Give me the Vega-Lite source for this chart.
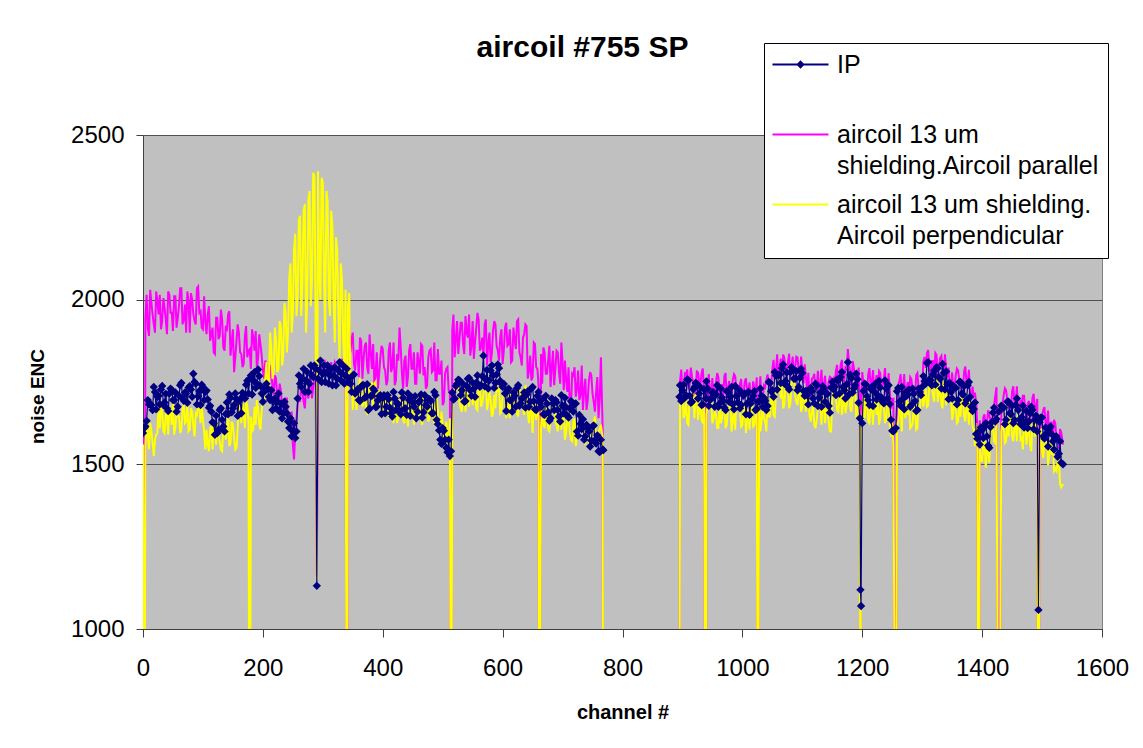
{
"$schema": "https://vega.github.io/schema/vega-lite/v6.json",
"width": 959, "height": 494,
"autosize": {"type": "none"},
"padding": {"left": 143, "top": 135, "right": 41, "bottom": 119},
"background": "white",
"config": {"view": {"fill": "#C0C0C0", "stroke": "#808080", "strokeWidth": 1}, "font": "Liberation Sans"},
"title": {"text": "aircoil #755 SP", "font": "Liberation Sans", "fontSize": 30, "fontWeight": "bold", "color": "black", "anchor": "middle", "frame": "group", "dx": -40, "offset": -44, "baseline": "alphabetic"},
"data": {"values": [
{"c":0,"i":1595,"p":1610,"y":1560},{"c":2,"i":1610,"p":0,"y":0},{"c":4,"i":1615,"p":1945,"y":1555},{"c":8,"i":1695,"p":1915,"y":1595},{"c":12,"i":1682,"p":2030,"y":1625},{"c":16,"i":1665,"p":1955,"y":1565},{"c":20,"i":1720,"p":1900,"y":1575},{"c":24,"i":1705,"p":1995,"y":1595},{"c":28,"i":1682,"p":2015,"y":1610},{"c":32,"i":1738,"p":1935,"y":1660},{"c":36,"i":1688,"p":1975,"y":1595},{"c":40,"i":1670,"p":1895,"y":1650},{"c":44,"i":1715,"p":2015,"y":1675},{"c":48,"i":1725,"p":1960,"y":1620},{"c":52,"i":1695,"p":2010,"y":1590},{"c":56,"i":1660,"p":1915,"y":1665},{"c":60,"i":1708,"p":1980,"y":1645},{"c":64,"i":1747,"p":2035,"y":1605},{"c":68,"i":1693,"p":1940,"y":1680},{"c":72,"i":1715,"p":1900,"y":1630},{"c":76,"i":1733,"p":1995,"y":1600},{"c":80,"i":1727,"p":2020,"y":1670},{"c":84,"i":1775,"p":1955,"y":1615},{"c":88,"i":1745,"p":1925,"y":1655},{"c":92,"i":1707,"p":2040,"y":1685},{"c":96,"i":1680,"p":1965,"y":1625},{"c":100,"i":1735,"p":1910,"y":1635},{"c":104,"i":1720,"p":1935,"y":1545},{"c":108,"i":1697,"p":1955,"y":1560},{"c":112,"i":1678,"p":1875,"y":1610},{"c":116,"i":1628,"p":1915,"y":1545},{"c":120,"i":1590,"p":1835,"y":1600},{"c":124,"i":1595,"p":1945,"y":1625},{"c":128,"i":1665,"p":1890,"y":1570},{"c":132,"i":1635,"p":1940,"y":1540},{"c":136,"i":1600,"p":1845,"y":1615},{"c":140,"i":1688,"p":1910,"y":1595},{"c":144,"i":1712,"p":1965,"y":1555},{"c":148,"i":1658,"p":1870,"y":1630},{"c":152,"i":1680,"p":1780,"y":1580},{"c":156,"i":1698,"p":1875,"y":1550},{"c":160,"i":1692,"p":1900,"y":1680},{"c":164,"i":1655,"p":1835,"y":1625},{"c":168,"i":1710,"p":1805,"y":1665},{"c":172,"i":1742,"p":1920,"y":1695},{"c":176,"i":1715,"p":1845,"y":1635},{"c":178,"i":1760,"p":1850,"y":0},{"c":180,"i":1770,"p":1790,"y":1645},{"c":184,"i":1755,"p":1885,"y":1605},{"c":188,"i":1732,"p":1905,"y":1620},{"c":192,"i":1788,"p":1825,"y":1670},{"c":196,"i":1738,"p":1865,"y":1605},
{"c":200,"i":1690,"p":1785,"y":1690},{"c":204,"i":1730,"p":1815,"y":1760},{"c":208,"i":1730,"p":1760,"y":1720},{"c":212,"i":1695,"p":1800,"y":1900},{"c":216,"i":1665,"p":1735,"y":1760},{"c":220,"i":1700,"p":1770,"y":1915},{"c":224,"i":1690,"p":1700,"y":1780},{"c":228,"i":1660,"p":1745,"y":1935},{"c":232,"i":1640,"p":1680,"y":1800},{"c":236,"i":1690,"p":1650,"y":1990},{"c":240,"i":1655,"p":1700,"y":1840},{"c":244,"i":1610,"p":1620,"y":2065},{"c":248,"i":1585,"p":1660,"y":1900},{"c":252,"i":1625,"p":1515,"y":2150},{"c":256,"i":1600,"p":1640,"y":1950},{"c":260,"i":1770,"p":1700,"y":2240},{"c":264,"i":1735,"p":1745,"y":1950},{"c":268,"i":1790,"p":1690,"y":2270},{"c":272,"i":1755,"p":1730,"y":1900},{"c":276,"i":1720,"p":1700,"y":2305},{"c":280,"i":1800,"p":1760,"y":1980},{"c":284,"i":1765,"p":1735,"y":2385},{"c":288,"i":1790,"p":1780,"y":1950},{"c":290,"i":1131,"p":1160,"y":1150},{"c":292,"i":1760,"p":1790,"y":2390},{"c":296,"i":1815,"p":1800,"y":2000},{"c":300,"i":1775,"p":1790,"y":2355},{"c":304,"i":1750,"p":1810,"y":1900},{"c":308,"i":1800,"p":1790,"y":2300},{"c":312,"i":1770,"p":1800,"y":1950},{"c":316,"i":1740,"p":1780,"y":2220},{"c":320,"i":1795,"p":1810,"y":1870},{"c":324,"i":1760,"p":1790,"y":2150},{"c":328,"i":1810,"p":1800,"y":1820},{"c":332,"i":1775,"p":1820,"y":2060},{"c":336,"i":1745,"p":1800,"y":1800},{"c":340,"i":1790,"p":0,"y":0},{"c":344,"i":1760,"p":1930,"y":2020},{"c":348,"i":1720,"p":1880,"y":1780},
{"c":352,"i":1773,"p":1805,"y":1730},{"c":356,"i":1720,"p":1845,"y":1665},{"c":360,"i":1695,"p":1765,"y":1720},{"c":364,"i":1735,"p":1875,"y":1745},{"c":368,"i":1740,"p":1820,"y":1690},{"c":372,"i":1705,"p":1870,"y":1660},{"c":376,"i":1665,"p":1775,"y":1735},{"c":380,"i":1708,"p":1840,"y":1715},{"c":384,"i":1730,"p":1865,"y":1675},{"c":388,"i":1674,"p":1770,"y":1750},{"c":392,"i":1694,"p":1730,"y":1700},{"c":396,"i":1710,"p":1825,"y":1670},{"c":400,"i":1702,"p":1850,"y":1700},{"c":404,"i":1655,"p":1785,"y":1645},{"c":408,"i":1710,"p":1755,"y":1685},{"c":412,"i":1672,"p":1870,"y":1715},{"c":416,"i":1645,"p":1795,"y":1655},{"c":420,"i":1700,"p":1740,"y":1665},{"c":424,"i":1685,"p":1835,"y":1625},{"c":428,"i":1662,"p":1915,"y":1640},{"c":432,"i":1718,"p":1775,"y":1690},{"c":436,"i":1668,"p":1815,"y":1625},{"c":440,"i":1650,"p":1735,"y":1680},{"c":444,"i":1695,"p":1845,"y":1705},{"c":448,"i":1705,"p":1790,"y":1650},{"c":452,"i":1675,"p":1840,"y":1620},{"c":456,"i":1640,"p":1745,"y":1695},{"c":460,"i":1688,"p":1810,"y":1675},{"c":464,"i":1712,"p":1865,"y":1635},{"c":468,"i":1658,"p":1770,"y":1710},{"c":472,"i":1680,"p":1730,"y":1660},{"c":476,"i":1698,"p":1825,"y":1630},{"c":480,"i":1692,"p":1850,"y":1700},{"c":484,"i":1655,"p":1785,"y":1645},{"c":488,"i":1710,"p":1755,"y":1685},{"c":492,"i":1622,"p":1850,"y":1665},{"c":496,"i":1575,"p":1775,"y":1605},{"c":500,"i":1610,"p":1680,"y":1615},{"c":504,"i":1575,"p":1775,"y":1575},{"c":508,"i":1537,"p":1795,"y":1590},{"c":512,"i":1525,"p":1715,"y":1640},{"c":514,"i":1540,"p":0,"y":0},
{"c":516,"i":1718,"p":1905,"y":1665},{"c":520,"i":1700,"p":1825,"y":1720},{"c":524,"i":1745,"p":1935,"y":1745},{"c":528,"i":1755,"p":1880,"y":1690},{"c":532,"i":1725,"p":1930,"y":1660},{"c":536,"i":1690,"p":1835,"y":1735},{"c":540,"i":1738,"p":1900,"y":1715},{"c":544,"i":1762,"p":1955,"y":1675},{"c":548,"i":1708,"p":1860,"y":1750},{"c":552,"i":1730,"p":1820,"y":1700},{"c":556,"i":1748,"p":1915,"y":1670},{"c":560,"i":1742,"p":1940,"y":1740},{"c":564,"i":1740,"p":1855,"y":1675},{"c":568,"i":1830,"p":1825,"y":1715},{"c":572,"i":1757,"p":1940,"y":1745},{"c":576,"i":1730,"p":1865,"y":1685},{"c":580,"i":1785,"p":1810,"y":1695},{"c":584,"i":1770,"p":1905,"y":1655},{"c":588,"i":1747,"p":1925,"y":1670},{"c":592,"i":1803,"p":1845,"y":1720},{"c":596,"i":1753,"p":1885,"y":1655},{"c":600,"i":1735,"p":1805,"y":1710},{"c":604,"i":1715,"p":1915,"y":1725},{"c":608,"i":1725,"p":1860,"y":1670},{"c":612,"i":1695,"p":1910,"y":1640},{"c":616,"i":1660,"p":1815,"y":1715},{"c":620,"i":1708,"p":1880,"y":1695},{"c":624,"i":1732,"p":1935,"y":1655},{"c":628,"i":1678,"p":1840,"y":1730},{"c":632,"i":1700,"p":1800,"y":1680},{"c":636,"i":1718,"p":1895,"y":1650},{"c":640,"i":1712,"p":1920,"y":1720},{"c":644,"i":1675,"p":1785,"y":1625},{"c":648,"i":1730,"p":1755,"y":1665},{"c":652,"i":1692,"p":1870,"y":1695},{"c":656,"i":1665,"p":1795,"y":1635},{"c":660,"i":1720,"p":1740,"y":1645},{"c":661,"i":1690,"p":0,"y":0},{"c":664,"i":1675,"p":1835,"y":1605},{"c":668,"i":1652,"p":1855,"y":1620},{"c":672,"i":1708,"p":1775,"y":1670},{"c":676,"i":1658,"p":1815,"y":1605},{"c":680,"i":1640,"p":1735,"y":1660},{"c":684,"i":1685,"p":1845,"y":1685},{"c":688,"i":1695,"p":1790,"y":1630},{"c":692,"i":1665,"p":1840,"y":1600},{"c":696,"i":1630,"p":1745,"y":1675},{"c":700,"i":1678,"p":1810,"y":1655},{"c":704,"i":1702,"p":1815,"y":1575},{"c":708,"i":1648,"p":1720,"y":1650},{"c":712,"i":1670,"p":1680,"y":1600},{"c":716,"i":1688,"p":1775,"y":1570},{"c":720,"i":1682,"p":1795,"y":1640},{"c":724,"i":1600,"p":1730,"y":1585},{"c":728,"i":1650,"p":1695,"y":1625},{"c":732,"i":1607,"p":1800,"y":1655},{"c":736,"i":1575,"p":1725,"y":1595},{"c":740,"i":1620,"p":1665,"y":1605},{"c":744,"i":1600,"p":1755,"y":1565},{"c":748,"i":1572,"p":1770,"y":1580},{"c":752,"i":1618,"p":1690,"y":1630},{"c":756,"i":1563,"p":1720,"y":1565},{"c":760,"i":1540,"p":1640,"y":1600},{"c":764,"i":1575,"p":1825,"y":1620},{"c":767,"i":1545,"p":1600,"y":1580},{"c":768,"i":1543,"p":0,"y":0},
{"c":830,"i":null,"p":null,"y":null},
{"c":895,"i":1705,"p":0,"y":0},{"c":896,"i":1740,"p":1752,"y":1685},{"c":900,"i":1725,"p":1719,"y":1710},{"c":904,"i":1702,"p":1776,"y":1655},{"c":908,"i":1758,"p":1788,"y":1625},{"c":912,"i":1708,"p":1740,"y":1700},{"c":916,"i":1690,"p":1764,"y":1680},{"c":920,"i":1735,"p":1716,"y":1640},{"c":924,"i":1745,"p":1782,"y":1715},{"c":928,"i":1715,"p":1749,"y":1665},{"c":932,"i":1680,"p":1779,"y":1635},{"c":936,"i":1728,"p":1722,"y":1705},{"c":939,"i":1700,"p":0,"y":0},{"c":940,"i":1752,"p":1761,"y":1650},{"c":944,"i":1678,"p":1774,"y":1670},{"c":948,"i":1700,"p":1717,"y":1700},{"c":952,"i":1718,"p":1693,"y":1640},{"c":956,"i":1712,"p":1750,"y":1650},{"c":960,"i":1675,"p":1765,"y":1610},{"c":964,"i":1730,"p":1726,"y":1625},{"c":968,"i":1692,"p":1708,"y":1675},{"c":972,"i":1665,"p":1777,"y":1610},{"c":976,"i":1720,"p":1732,"y":1665},{"c":980,"i":1705,"p":1699,"y":1690},{"c":984,"i":1682,"p":1756,"y":1635},{"c":988,"i":1738,"p":1768,"y":1605},{"c":992,"i":1688,"p":1720,"y":1680},{"c":996,"i":1670,"p":1744,"y":1660},{"c":1000,"i":1715,"p":1696,"y":1620},{"c":1004,"i":1715,"p":1752,"y":1685},{"c":1008,"i":1685,"p":1719,"y":1635},{"c":1012,"i":1650,"p":1749,"y":1605},{"c":1016,"i":1698,"p":1692,"y":1675},{"c":1020,"i":1722,"p":1731,"y":1620},{"c":1024,"i":1668,"p":1764,"y":1660},{"c":1026,"i":1690,"p":0,"y":0},{"c":1028,"i":1690,"p":1707,"y":1690},{"c":1032,"i":1708,"p":1683,"y":1630},{"c":1036,"i":1702,"p":1740,"y":1640},{"c":1040,"i":1665,"p":1755,"y":1600},{"c":1044,"i":1750,"p":1746,"y":1645},{"c":1048,"i":1722,"p":1738,"y":1705},{"c":1052,"i":1705,"p":1817,"y":1650},{"c":1056,"i":1770,"p":1782,"y":1715},{"c":1060,"i":1770,"p":1764,"y":1755},{"c":1064,"i":1747,"p":1821,"y":1700},{"c":1068,"i":1803,"p":1833,"y":1670},{"c":1072,"i":1753,"p":1785,"y":1745},{"c":1076,"i":1735,"p":1809,"y":1725},{"c":1080,"i":1780,"p":1761,"y":1685},{"c":1084,"i":1790,"p":1827,"y":1760},{"c":1088,"i":1760,"p":1794,"y":1710},{"c":1092,"i":1725,"p":1824,"y":1680},{"c":1096,"i":1763,"p":1757,"y":1740},{"c":1100,"i":1777,"p":1786,"y":1675},
{"c":1104,"i":1708,"p":1804,"y":1700},{"c":1108,"i":1710,"p":1727,"y":1710},{"c":1112,"i":1728,"p":1703,"y":1650},{"c":1116,"i":1722,"p":1760,"y":1660},{"c":1120,"i":1685,"p":1775,"y":1620},{"c":1124,"i":1740,"p":1736,"y":1635},{"c":1128,"i":1702,"p":1718,"y":1685},{"c":1132,"i":1675,"p":1787,"y":1620},{"c":1136,"i":1730,"p":1742,"y":1675},{"c":1140,"i":1715,"p":1709,"y":1700},{"c":1144,"i":1677,"p":1751,"y":1630},{"c":1148,"i":1733,"p":1763,"y":1600},{"c":1152,"i":1728,"p":1760,"y":1720},{"c":1156,"i":1710,"p":1784,"y":1700},{"c":1160,"i":1755,"p":1736,"y":1660},{"c":1164,"i":1765,"p":1802,"y":1735},{"c":1168,"i":1735,"p":1769,"y":1685},{"c":1172,"i":1700,"p":1799,"y":1655},{"c":1176,"i":1810,"p":1850,"y":1725},{"c":1180,"i":1772,"p":1781,"y":1670},{"c":1184,"i":1718,"p":1814,"y":1710},{"c":1188,"i":1740,"p":1757,"y":1740},{"c":1192,"i":1758,"p":1733,"y":1680},{"c":1196,"i":1640,"p":1700,"y":1620},{"c":1197,"i":1119,"p":0,"y":0},{"c":1198,"i":1070,"p":1620,"y":1580},{"c":1200,"i":1625,"p":1780,"y":1625},{"c":1204,"i":1745,"p":1741,"y":1640},{"c":1208,"i":1707,"p":1723,"y":1690},{"c":1212,"i":1680,"p":1792,"y":1625},{"c":1216,"i":1735,"p":1747,"y":1680},{"c":1220,"i":1720,"p":1714,"y":1705},{"c":1224,"i":1697,"p":1771,"y":1650},{"c":1228,"i":1753,"p":1783,"y":1620},{"c":1232,"i":1703,"p":1735,"y":1695},{"c":1236,"i":1685,"p":1759,"y":1675},{"c":1240,"i":1730,"p":1711,"y":1635},{"c":1244,"i":1740,"p":1777,"y":1710},{"c":1248,"i":1635,"p":1669,"y":1585},{"c":1252,"i":1600,"p":1699,"y":1555},{"c":1256,"i":1610,"p":0,"y":0},{"c":1260,"i":1732,"p":1741,"y":1630},{"c":1264,"i":1678,"p":1774,"y":1670},{"c":1268,"i":1700,"p":1717,"y":1700},{"c":1272,"i":1718,"p":1693,"y":1640},{"c":1276,"i":1712,"p":1750,"y":1650},{"c":1280,"i":1675,"p":1765,"y":1610},{"c":1284,"i":1730,"p":1726,"y":1625},{"c":1288,"i":1692,"p":1708,"y":1675},{"c":1292,"i":1665,"p":1777,"y":1610},{"c":1296,"i":1720,"p":1732,"y":1665},{"c":1300,"i":1735,"p":1729,"y":1720},
{"c":1304,"i":1752,"p":1826,"y":1705},{"c":1308,"i":1808,"p":1838,"y":1675},{"c":1312,"i":1758,"p":1790,"y":1750},{"c":1316,"i":1740,"p":1814,"y":1730},{"c":1320,"i":1785,"p":1766,"y":1690},{"c":1324,"i":1795,"p":1832,"y":1765},{"c":1328,"i":1765,"p":1799,"y":1715},{"c":1332,"i":1730,"p":1829,"y":1685},{"c":1336,"i":1778,"p":1772,"y":1755},{"c":1340,"i":1782,"p":1791,"y":1680},{"c":1344,"i":1698,"p":1794,"y":1690},{"c":1348,"i":1720,"p":1737,"y":1720},{"c":1352,"i":1738,"p":1713,"y":1660},{"c":1356,"i":1732,"p":1770,"y":1670},{"c":1360,"i":1695,"p":1785,"y":1630},{"c":1364,"i":1750,"p":1746,"y":1645},{"c":1368,"i":1712,"p":1728,"y":1695},{"c":1372,"i":1685,"p":1797,"y":1630},{"c":1376,"i":1740,"p":1752,"y":1685},{"c":1380,"i":1705,"p":1699,"y":1690},{"c":1384,"i":1662,"p":1736,"y":1615},{"c":1388,"i":1688,"p":1718,"y":1555},{"c":1392,"i":1578,"p":1610,"y":1570},{"c":1395,"i":1600,"p":0,"y":0},{"c":1396,"i":1560,"p":1634,"y":1550},{"c":1400,"i":1605,"p":1586,"y":1510},{"c":1404,"i":1615,"p":1652,"y":1585},{"c":1408,"i":1585,"p":1619,"y":1535},{"c":1412,"i":1550,"p":1649,"y":1505},{"c":1416,"i":1628,"p":1622,"y":1605},{"c":1420,"i":1672,"p":1681,"y":1570},{"c":1424,"i":1638,"p":1734,"y":1630},{"c":1428,"i":1660,"p":0,"y":0},{"c":1432,"i":1678,"p":1653,"y":1600},{"c":1436,"i":1672,"p":1710,"y":1610},{"c":1440,"i":1635,"p":1725,"y":1570},{"c":1444,"i":1690,"p":1686,"y":1585},{"c":1448,"i":1652,"p":1668,"y":1635},{"c":1452,"i":1625,"p":1737,"y":1570},{"c":1456,"i":1680,"p":1692,"y":1625},{"c":1460,"i":1665,"p":1659,"y":1650},{"c":1464,"i":1622,"p":1696,"y":1575},{"c":1468,"i":1678,"p":1708,"y":1545},{"c":1472,"i":1628,"p":1660,"y":1620},{"c":1476,"i":1610,"p":1684,"y":1600},{"c":1480,"i":1655,"p":1636,"y":1560},{"c":1484,"i":1665,"p":1702,"y":1635},{"c":1488,"i":1635,"p":1669,"y":1585},{"c":1492,"i":1600,"p":1699,"y":1555},{"c":1494,"i":1058,"p":0,"y":0},{"c":1496,"i":1628,"p":1622,"y":1605},{"c":1500,"i":1642,"p":1651,"y":1540},{"c":1504,"i":1578,"p":1674,"y":1570},{"c":1508,"i":1595,"p":1612,"y":1595},{"c":1512,"i":1608,"p":1583,"y":1530},{"c":1516,"i":1592,"p":1630,"y":1530},{"c":1520,"i":1545,"p":1635,"y":1480},{"c":1524,"i":1585,"p":1581,"y":1480},{"c":1528,"i":1532,"p":1548,"y":1515},{"c":1532,"i":1505,"p":1597,"y":1430},{"c":1535,"i":1500,"p":1560,"y":1440},
{"c":6,"i":1632,"p":2015,"y":1630},{"c":10,"i":1682,"p":1890,"y":1545},{"c":14,"i":1680,"p":1990,"y":1600},{"c":18,"i":1735,"p":1925,"y":1525},{"c":22,"i":1667,"p":2025,"y":1590},{"c":26,"i":1708,"p":1955,"y":1680},{"c":30,"i":1727,"p":1910,"y":1675},{"c":34,"i":1680,"p":2005,"y":1600},{"c":38,"i":1714,"p":1940,"y":1655},{"c":42,"i":1662,"p":2025,"y":1590},{"c":46,"i":1730,"p":1960,"y":1665},{"c":50,"i":1695,"p":1905,"y":1685},{"c":54,"i":1718,"p":2010,"y":1610},{"c":58,"i":1675,"p":1945,"y":1645},{"c":62,"i":1740,"p":2035,"y":1595},{"c":66,"i":1700,"p":1925,"y":1670},{"c":70,"i":1718,"p":1985,"y":1625},{"c":74,"i":1687,"p":2025,"y":1690},{"c":78,"i":1737,"p":1900,"y":1605},{"c":82,"i":1705,"p":2000,"y":1660},{"c":86,"i":1750,"p":1935,"y":1585},{"c":90,"i":1682,"p":2035,"y":1650},{"c":94,"i":1723,"p":1960,"y":1680},{"c":98,"i":1742,"p":1915,"y":1675},{"c":102,"i":1695,"p":2010,"y":1600},{"c":106,"i":1724,"p":1895,"y":1605},{"c":110,"i":1672,"p":1980,"y":1540},{"c":114,"i":1660,"p":1895,"y":1615},{"c":118,"i":1625,"p":1840,"y":1635},{"c":122,"i":1648,"p":1945,"y":1560},{"c":126,"i":1605,"p":1880,"y":1595},{"c":130,"i":1670,"p":1970,"y":1545},{"c":134,"i":1615,"p":1855,"y":1620},{"c":138,"i":1653,"p":1915,"y":1575},{"c":142,"i":1652,"p":1955,"y":1650},{"c":146,"i":1702,"p":1830,"y":1565},{"c":150,"i":1670,"p":1910,"y":1620},{"c":154,"i":1715,"p":1825,"y":1545},{"c":158,"i":1647,"p":1925,"y":1610},{"c":162,"i":1698,"p":1840,"y":1690},{"c":166,"i":1717,"p":1795,"y":1685},{"c":170,"i":1700,"p":1890,"y":1610},{"c":174,"i":1754,"p":1825,"y":1675},{"c":182,"i":1712,"p":1910,"y":1600},{"c":186,"i":1780,"p":1845,"y":1675},{"c":190,"i":1745,"p":1790,"y":1695},{"c":194,"i":1768,"p":1895,"y":1620},{"c":198,"i":1715,"p":1830,"y":1665},
{"c":202,"i":1720,"p":1760,"y":1700},{"c":206,"i":1745,"p":1800,"y":1810},{"c":210,"i":1705,"p":1735,"y":1740},{"c":214,"i":1725,"p":1780,"y":1850},{"c":218,"i":1690,"p":1710,"y":1780},{"c":222,"i":1670,"p":1760,"y":1880},{"c":226,"i":1715,"p":1690,"y":1790},{"c":230,"i":1685,"p":1725,"y":1920},{"c":234,"i":1655,"p":1660,"y":1830},{"c":238,"i":1675,"p":1700,"y":1960},{"c":242,"i":1630,"p":1640,"y":1900},{"c":246,"i":1640,"p":1600,"y":2110},{"c":250,"i":1600,"p":1560,"y":1960},{"c":254,"i":1580,"p":1600,"y":2200},{"c":258,"i":1700,"p":1680,"y":2000},{"c":262,"i":1745,"p":1690,"y":2255},{"c":266,"i":1760,"p":1720,"y":2050},{"c":270,"i":1720,"p":1670,"y":2290},{"c":274,"i":1780,"p":1720,"y":2000},{"c":278,"i":1745,"p":1750,"y":2330},{"c":282,"i":1770,"p":1700,"y":2060},{"c":286,"i":1800,"p":1760,"y":2375},{"c":294,"i":1785,"p":1780,"y":2100},{"c":298,"i":1750,"p":1800,"y":2370},{"c":302,"i":1800,"p":1790,"y":2050},{"c":306,"i":1780,"p":1800,"y":2330},{"c":310,"i":1745,"p":1790,"y":2000},{"c":314,"i":1790,"p":1810,"y":2270},{"c":318,"i":1770,"p":1790,"y":2000},{"c":322,"i":1740,"p":1800,"y":2190},{"c":326,"i":1785,"p":1780,"y":1950},{"c":330,"i":1755,"p":1800,"y":2110},{"c":334,"i":1800,"p":1790,"y":1880},{"c":338,"i":1770,"p":1810,"y":2030},{"c":342,"i":1750,"p":1900,"y":1980},{"c":346,"i":1745,"p":1840,"y":1760},
{"c":350,"i":1770,"p":1900,"y":1665},{"c":354,"i":1715,"p":1785,"y":1740},{"c":358,"i":1728,"p":1845,"y":1695},{"c":362,"i":1692,"p":1885,"y":1760},{"c":366,"i":1740,"p":1760,"y":1675},{"c":370,"i":1702,"p":1860,"y":1730},{"c":374,"i":1743,"p":1795,"y":1655},{"c":378,"i":1669,"p":1895,"y":1720},{"c":382,"i":1708,"p":1790,"y":1750},{"c":386,"i":1724,"p":1745,"y":1745},{"c":390,"i":1675,"p":1840,"y":1670},{"c":394,"i":1707,"p":1775,"y":1725},{"c":398,"i":1653,"p":1860,"y":1660},{"c":402,"i":1710,"p":1795,"y":1695},{"c":406,"i":1675,"p":1740,"y":1715},{"c":410,"i":1698,"p":1845,"y":1640},{"c":414,"i":1655,"p":1780,"y":1675},{"c":418,"i":1720,"p":1870,"y":1625},{"c":422,"i":1665,"p":1755,"y":1700},{"c":426,"i":1683,"p":1815,"y":1655},{"c":430,"i":1652,"p":1855,"y":1720},{"c":434,"i":1702,"p":1730,"y":1635},{"c":438,"i":1670,"p":1830,"y":1690},{"c":442,"i":1715,"p":1765,"y":1615},{"c":446,"i":1647,"p":1865,"y":1680},{"c":450,"i":1688,"p":1790,"y":1710},{"c":454,"i":1707,"p":1745,"y":1705},{"c":458,"i":1660,"p":1840,"y":1630},{"c":462,"i":1694,"p":1775,"y":1685},{"c":466,"i":1642,"p":1860,"y":1620},{"c":470,"i":1710,"p":1795,"y":1695},{"c":474,"i":1675,"p":1740,"y":1715},{"c":478,"i":1698,"p":1845,"y":1640},{"c":482,"i":1655,"p":1780,"y":1675},{"c":486,"i":1720,"p":1870,"y":1625},{"c":490,"i":1635,"p":1755,"y":1700},{"c":494,"i":1603,"p":1775,"y":1595},{"c":498,"i":1562,"p":1815,"y":1660},{"c":502,"i":1602,"p":1690,"y":1575},{"c":506,"i":1550,"p":1790,"y":1630},{"c":510,"i":1575,"p":1725,"y":1555},
{"c":518,"i":1697,"p":1955,"y":1720},{"c":522,"i":1738,"p":1880,"y":1750},{"c":526,"i":1757,"p":1835,"y":1745},{"c":530,"i":1710,"p":1930,"y":1670},{"c":534,"i":1744,"p":1865,"y":1725},{"c":538,"i":1692,"p":1950,"y":1660},{"c":542,"i":1760,"p":1885,"y":1735},{"c":546,"i":1725,"p":1830,"y":1755},{"c":550,"i":1748,"p":1935,"y":1680},{"c":554,"i":1705,"p":1870,"y":1715},{"c":558,"i":1770,"p":1960,"y":1665},{"c":562,"i":1735,"p":1845,"y":1740},{"c":566,"i":1768,"p":1885,"y":1685},{"c":570,"i":1737,"p":1925,"y":1750},{"c":574,"i":1787,"p":1800,"y":1665},{"c":578,"i":1755,"p":1900,"y":1720},{"c":582,"i":1800,"p":1835,"y":1645},{"c":586,"i":1732,"p":1935,"y":1710},{"c":590,"i":1773,"p":1860,"y":1740},{"c":594,"i":1792,"p":1815,"y":1735},{"c":598,"i":1745,"p":1910,"y":1660},{"c":602,"i":1744,"p":1845,"y":1715},{"c":606,"i":1662,"p":1930,"y":1640},{"c":610,"i":1730,"p":1865,"y":1715},{"c":614,"i":1695,"p":1810,"y":1735},{"c":618,"i":1718,"p":1915,"y":1660},{"c":622,"i":1675,"p":1850,"y":1695},{"c":626,"i":1740,"p":1940,"y":1645},{"c":630,"i":1685,"p":1825,"y":1720},{"c":634,"i":1703,"p":1885,"y":1675},{"c":638,"i":1672,"p":1925,"y":1740},{"c":642,"i":1722,"p":1760,"y":1655},{"c":646,"i":1690,"p":1830,"y":1670},{"c":650,"i":1735,"p":1765,"y":1595},{"c":654,"i":1667,"p":1865,"y":1660},{"c":658,"i":1708,"p":1790,"y":1690},{"c":666,"i":1697,"p":1745,"y":1685},{"c":670,"i":1650,"p":1840,"y":1610},{"c":674,"i":1684,"p":1775,"y":1665},{"c":678,"i":1632,"p":1860,"y":1600},{"c":682,"i":1700,"p":1795,"y":1675},{"c":686,"i":1665,"p":1740,"y":1695},{"c":690,"i":1688,"p":1845,"y":1620},{"c":694,"i":1645,"p":1780,"y":1655},{"c":698,"i":1710,"p":1870,"y":1605},{"c":702,"i":1655,"p":1725,"y":1650},{"c":706,"i":1673,"p":1755,"y":1595},{"c":710,"i":1642,"p":1795,"y":1660},{"c":714,"i":1692,"p":1670,"y":1575},{"c":718,"i":1660,"p":1770,"y":1630},{"c":722,"i":1685,"p":1705,"y":1555},{"c":726,"i":1587,"p":1785,"y":1610},{"c":730,"i":1623,"p":1710,"y":1640},{"c":734,"i":1637,"p":1665,"y":1635},{"c":738,"i":1585,"p":1760,"y":1560},{"c":742,"i":1612,"p":1695,"y":1615},{"c":746,"i":1554,"p":1780,"y":1550},{"c":750,"i":1615,"p":1715,"y":1625},{"c":754,"i":1573,"p":1660,"y":1645},{"c":758,"i":1588,"p":1765,"y":1570},{"c":762,"i":1537,"p":1700,"y":1605},
{"c":898,"i":1692,"p":1788,"y":1725},{"c":902,"i":1742,"p":1713,"y":1640},{"c":906,"i":1710,"p":1773,"y":1695},{"c":910,"i":1755,"p":1734,"y":1620},{"c":914,"i":1687,"p":1794,"y":1685},{"c":918,"i":1728,"p":1749,"y":1715},{"c":922,"i":1747,"p":1722,"y":1710},{"c":926,"i":1700,"p":1779,"y":1635},{"c":930,"i":1734,"p":1740,"y":1690},{"c":934,"i":1682,"p":1791,"y":1625},{"c":942,"i":1730,"p":1732,"y":1680},{"c":946,"i":1695,"p":1699,"y":1700},{"c":950,"i":1718,"p":1762,"y":1625},{"c":954,"i":1675,"p":1723,"y":1660},{"c":958,"i":1740,"p":1777,"y":1610},{"c":962,"i":1685,"p":1708,"y":1685},{"c":966,"i":1703,"p":1744,"y":1640},{"c":970,"i":1672,"p":1768,"y":1705},{"c":974,"i":1722,"p":1693,"y":1620},{"c":978,"i":1690,"p":1753,"y":1675},{"c":982,"i":1735,"p":1714,"y":1600},{"c":986,"i":1667,"p":1774,"y":1665},{"c":990,"i":1708,"p":1729,"y":1695},{"c":994,"i":1727,"p":1702,"y":1690},{"c":998,"i":1680,"p":1759,"y":1615},{"c":1002,"i":1709,"p":1715,"y":1665},{"c":1006,"i":1652,"p":1761,"y":1595},{"c":1010,"i":1720,"p":1722,"y":1670},{"c":1014,"i":1685,"p":1689,"y":1690},{"c":1018,"i":1708,"p":1752,"y":1615},{"c":1022,"i":1665,"p":1713,"y":1650},{"c":1030,"i":1730,"p":1767,"y":1600},{"c":1034,"i":1675,"p":1698,"y":1675},{"c":1038,"i":1693,"p":1734,"y":1630},{"c":1042,"i":1677,"p":1773,"y":1710},{"c":1046,"i":1747,"p":1718,"y":1645},{"c":1050,"i":1725,"p":1788,"y":1710},{"c":1054,"i":1780,"p":1759,"y":1645},{"c":1058,"i":1727,"p":1834,"y":1725},{"c":1062,"i":1773,"p":1794,"y":1760},{"c":1066,"i":1792,"p":1767,"y":1755},{"c":1070,"i":1745,"p":1824,"y":1680},{"c":1074,"i":1779,"p":1785,"y":1735},{"c":1078,"i":1727,"p":1836,"y":1670},{"c":1082,"i":1795,"p":1797,"y":1745},{"c":1086,"i":1760,"p":1764,"y":1765},{"c":1090,"i":1783,"p":1827,"y":1690},{"c":1094,"i":1735,"p":1783,"y":1720},{"c":1098,"i":1790,"p":1827,"y":1660},{"c":1102,"i":1723,"p":1746,"y":1723},
{"c":1106,"i":1723,"p":1764,"y":1660},{"c":1110,"i":1682,"p":1778,"y":1715},{"c":1114,"i":1732,"p":1703,"y":1630},{"c":1118,"i":1700,"p":1763,"y":1685},{"c":1122,"i":1745,"p":1724,"y":1610},{"c":1126,"i":1677,"p":1784,"y":1675},{"c":1130,"i":1718,"p":1739,"y":1705},{"c":1134,"i":1737,"p":1712,"y":1700},{"c":1138,"i":1690,"p":1769,"y":1625},{"c":1142,"i":1714,"p":1720,"y":1670},{"c":1146,"i":1657,"p":1766,"y":1600},{"c":1150,"i":1750,"p":1752,"y":1700},{"c":1154,"i":1735,"p":1739,"y":1740},{"c":1158,"i":1758,"p":1802,"y":1665},{"c":1162,"i":1715,"p":1763,"y":1700},{"c":1166,"i":1780,"p":1817,"y":1650},{"c":1170,"i":1725,"p":1748,"y":1725},{"c":1174,"i":1743,"p":1784,"y":1680},{"c":1178,"i":1712,"p":1808,"y":1745},{"c":1182,"i":1762,"p":1733,"y":1660},{"c":1186,"i":1730,"p":1793,"y":1715},{"c":1190,"i":1775,"p":1754,"y":1640},{"c":1194,"i":1687,"p":1794,"y":1685},{"c":1202,"i":1723,"p":1744,"y":1710},{"c":1206,"i":1742,"p":1717,"y":1705},{"c":1210,"i":1695,"p":1774,"y":1630},{"c":1214,"i":1729,"p":1735,"y":1685},{"c":1218,"i":1677,"p":1786,"y":1620},{"c":1222,"i":1745,"p":1747,"y":1695},{"c":1226,"i":1710,"p":1714,"y":1715},{"c":1230,"i":1733,"p":1777,"y":1640},{"c":1234,"i":1690,"p":1738,"y":1675},{"c":1238,"i":1755,"p":1792,"y":1625},{"c":1242,"i":1700,"p":1723,"y":1700},{"c":1246,"i":1683,"p":1724,"y":1620},{"c":1250,"i":1602,"p":1698,"y":1635},{"c":1258,"i":1722,"p":1693,"y":1620},{"c":1262,"i":1690,"p":1753,"y":1675},{"c":1266,"i":1735,"p":1714,"y":1600},{"c":1270,"i":1667,"p":1774,"y":1665},{"c":1274,"i":1708,"p":1729,"y":1695},{"c":1278,"i":1727,"p":1702,"y":1690},{"c":1282,"i":1680,"p":1759,"y":1615},{"c":1286,"i":1714,"p":1720,"y":1670},{"c":1290,"i":1662,"p":1771,"y":1605},{"c":1294,"i":1730,"p":1732,"y":1680},{"c":1298,"i":1710,"p":1714,"y":1715},
{"c":1302,"i":1768,"p":1812,"y":1675},{"c":1306,"i":1745,"p":1793,"y":1730},{"c":1310,"i":1810,"p":1847,"y":1680},{"c":1314,"i":1755,"p":1778,"y":1755},{"c":1318,"i":1773,"p":1814,"y":1710},{"c":1322,"i":1742,"p":1838,"y":1775},{"c":1326,"i":1792,"p":1763,"y":1690},{"c":1330,"i":1760,"p":1823,"y":1745},{"c":1334,"i":1805,"p":1784,"y":1670},{"c":1338,"i":1727,"p":1834,"y":1725},{"c":1342,"i":1743,"p":1764,"y":1730},{"c":1346,"i":1747,"p":1722,"y":1710},{"c":1350,"i":1700,"p":1779,"y":1635},{"c":1354,"i":1734,"p":1740,"y":1690},{"c":1358,"i":1682,"p":1791,"y":1625},{"c":1362,"i":1750,"p":1752,"y":1700},{"c":1366,"i":1715,"p":1719,"y":1720},{"c":1370,"i":1738,"p":1782,"y":1645},{"c":1374,"i":1695,"p":1743,"y":1680},{"c":1378,"i":1750,"p":1787,"y":1620},{"c":1382,"i":1675,"p":1698,"y":1675},{"c":1386,"i":1668,"p":1709,"y":1605},{"c":1390,"i":1592,"p":1688,"y":1625},{"c":1398,"i":1612,"p":1583,"y":1510},{"c":1402,"i":1580,"p":1643,"y":1565},{"c":1406,"i":1625,"p":1604,"y":1490},{"c":1410,"i":1557,"p":1664,"y":1555},{"c":1414,"i":1613,"p":1634,"y":1600},{"c":1418,"i":1657,"p":1632,"y":1620},{"c":1422,"i":1630,"p":1709,"y":1565},{"c":1434,"i":1674,"p":1680,"y":1630},{"c":1438,"i":1622,"p":1731,"y":1565},{"c":1442,"i":1690,"p":1692,"y":1640},{"c":1446,"i":1655,"p":1659,"y":1660},{"c":1450,"i":1678,"p":1722,"y":1585},{"c":1454,"i":1635,"p":1683,"y":1620},{"c":1458,"i":1700,"p":1737,"y":1570},{"c":1462,"i":1635,"p":1658,"y":1635},{"c":1466,"i":1643,"p":1684,"y":1580},{"c":1470,"i":1612,"p":1708,"y":1645},{"c":1474,"i":1662,"p":1633,"y":1560},{"c":1478,"i":1630,"p":1693,"y":1615},{"c":1482,"i":1675,"p":1654,"y":1540},{"c":1486,"i":1607,"p":1714,"y":1605},{"c":1490,"i":1648,"p":1669,"y":1635},{"c":1498,"i":1642,"p":1617,"y":1605},{"c":1502,"i":1585,"p":1664,"y":1520},{"c":1506,"i":1612,"p":1618,"y":1568},{"c":1510,"i":1554,"p":1663,"y":1497},{"c":1514,"i":1615,"p":1617,"y":1565},{"c":1518,"i":1570,"p":1574,"y":1575},{"c":1522,"i":1580,"p":1624,"y":1487},{"c":1526,"i":1523,"p":1571,"y":1508},{"c":1530,"i":1570,"p":1607,"y":1440}
]},
"transform": [{"fold": ["i", "p", "y"], "as": ["s", "v"]}],
"encoding": {
  "x": {"field": "c", "type": "quantitative", "scale": {"domain": [0, 1600], "nice": false},
    "axis": {"title": "channel #", "values": [0,200,400,600,800,1000,1200,1400,1600], "format": "d", "grid": false,
      "labelFont": "Liberation Sans", "labelFontSize": 24, "labelColor": "black", "labelPadding": 19, "labelFlush": false, "labelOverlap": false,
      "tickColor": "#404040", "tickSize": 8, "domainColor": "#404040",
      "titleFont": "Liberation Sans", "titleFontSize": 20, "titleFontWeight": "bold", "titleColor": "black", "titlePadding": 22}},
  "y": {"field": "v", "type": "quantitative", "scale": {"domain": [1000, 2500], "nice": false, "zero": false},
    "axis": {"title": "noise ENC", "values": [1000,1500,2000,2500], "format": "d", "grid": true, "gridColor": "#505050", "gridWidth": 1,
      "labelFont": "Liberation Sans", "labelFontSize": 24, "labelColor": "black", "labelPadding": 12,
      "tickColor": "#404040", "tickSize": 7, "domainColor": "#404040",
      "titleFont": "Liberation Sans", "titleFontSize": 19, "titleFontWeight": "bold", "titleColor": "black", "titlePadding": 23, "titleY": 261}},
  "color": {"field": "s", "type": "nominal", "scale": {"domain": ["i", "p", "y"], "range": ["#000080", "#FF00FF", "#FFFF00"]},
    "legend": {"orient": "none", "legendX": 621, "legendY": -92, "title": null, "direction": "vertical",
      "fillColor": "white", "strokeColor": "black", "padding": 9,
      "labelFont": "Liberation Sans", "labelFontSize": 25, "labelColor": "black", "labelLimit": 600,
      "symbolSize": 400, "symbolStrokeWidth": 2, "symbolOffset": 15, "labelOffset": 24, "rowPadding": 13, "labelBaseline": "alphabetic",
      "labelExpr": "datum.value === 'i' ? ['IP', ' '] : datum.value === 'p' ? ['aircoil 13 um', 'shielding.Aircoil parallel'] : ['aircoil 13 um shielding.', 'Aircoil perpendicular']",
      "encode": {
        "symbols": {"update": {"shape": {"signal": "datum.value === 'i' ? 'M-2.8,0H2.8M0,-0.28L0.28,0L0,0.28L-0.28,0Z' : 'M-2.8,0H2.8'"}, "fill": {"signal": "datum.value === 'i' ? '#000080' : 'transparent'"}, "strokeWidth": {"value": 2}}},
        "labels": {"update": {"lineHeight": {"value": 31}, "dy": {"value": 8}}}
      }}}
},
"layer": [
  {"transform": [{"filter": "datum.s === 'p'"}], "mark": {"type": "line", "clip": true, "strokeWidth": 2, "invalid": "break-paths-show-domains"}},
  {"transform": [{"filter": "datum.s === 'y'"}], "mark": {"type": "line", "clip": true, "strokeWidth": 2, "invalid": "break-paths-show-domains"}},
  {"transform": [{"filter": "datum.s === 'i'"}], "mark": {"type": "line", "clip": true, "strokeWidth": 1.2, "invalid": "break-paths-show-domains", "point": {"filled": true, "shape": "diamond", "size": 70, "opacity": 1}}}
]
}
